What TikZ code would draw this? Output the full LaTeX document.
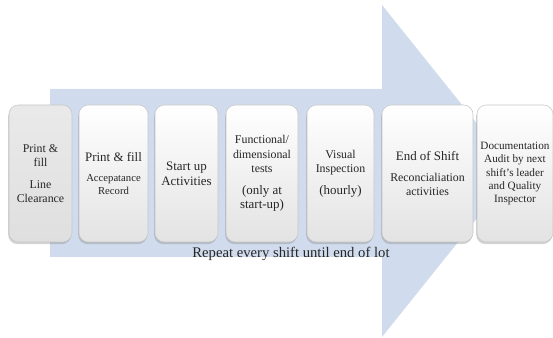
\documentclass[tikz,border=0pt]{standalone}
\usepackage{fontspec}
\setmainfont{LiberationSerif}[Extension=.ttf, UprightFont=*-Regular, BoldFont=*-Bold]
\usetikzlibrary{shadows}
\definecolor{arrowblue}{RGB}{208,220,237}
\newcommand{\txtL}{\fontsize{9.7}{11}\selectfont}
\newcommand{\txtM}{\fontsize{8.9}{11}\selectfont}
\newcommand{\txtS}{\fontsize{8}{11}\selectfont}
\tikzset{every picture/.style={line width=0.75pt}}
\tikzset{
  stepbox/.style={draw=gray!45, line width=0.4pt, rounded corners=7pt,
    top color=white, bottom color=gray!22,
    drop shadow={opacity=0.35, shadow xshift=-0.6pt, shadow yshift=-1.6pt},
    minimum height=102.75pt, inner sep=1pt, align=center,
    font=\fontsize{9}{11}\selectfont, text=black!85},
  firstbox/.style={stepbox, top color=gray!17, bottom color=gray!25}
}

\begin{document}
\begin{tikzpicture}[x=0.75pt,y=0.75pt,yscale=-1,xscale=1]
\useasboundingbox (0,0) rectangle (553,338);
% big arrow behind the steps
\fill[arrowblue] (50,89) -- (382,89) -- (382,5) -- (515,171) -- (382,337) -- (382,257) -- (50,257) -- cycle ;
% steps
\node [firstbox, minimum width=47.25pt] (clear) at (40.5,173.5) {\txtM Print \&\\ \txtM fill\\[5pt] \txtM Line\\ \txtM Clearance};
\node [stepbox, minimum width=51.75pt] (accept) at (113.5,173.5) {\txtL Print \& fill\\[4.5pt] \txtS Accepatance\\[-1.2pt] \txtS Record};
\node [stepbox, minimum width=47.25pt] (startup) at (186.5,173.5) {\txtL Start up\\ \txtL Activities};
\node [stepbox, minimum width=54pt] (tests) at (262,173.5) {\txtM Functional/\\ \txtM dimensional\\ \txtM tests\\[5pt] \txtL (only at\\ \txtL start-up)};
\node [stepbox, minimum width=50.25pt] (visual) at (340.5,173.5) {\txtM Visual\\ \txtM Inspection\\[5pt] \txtL (hourly)};
\node [stepbox, minimum width=68.25pt] (endshift) at (427.5,173.5) {\txtL End of Shift\\[5pt] \txtM Reconcialiation\\[-0.5pt] \txtM activities};
\node [stepbox, minimum width=57pt] (audit) at (515,173.5) {\fontsize{8.4}{10}\selectfont Documentation\\[-0.9pt] \fontsize{8.4}{10}\selectfont Audit by next\\[-0.9pt] \fontsize{8.4}{10}\selectfont shift's leader\\[-0.9pt] \fontsize{8.4}{10}\selectfont and Quality\\[-0.9pt] \fontsize{8.4}{10}\selectfont Inspector};
\node [inner sep=0.75pt, font=\fontsize{11}{13}\selectfont, text=black!85] (repeat) at (291,254) {Repeat every shift until end of lot};
\end{tikzpicture}
\end{document}
